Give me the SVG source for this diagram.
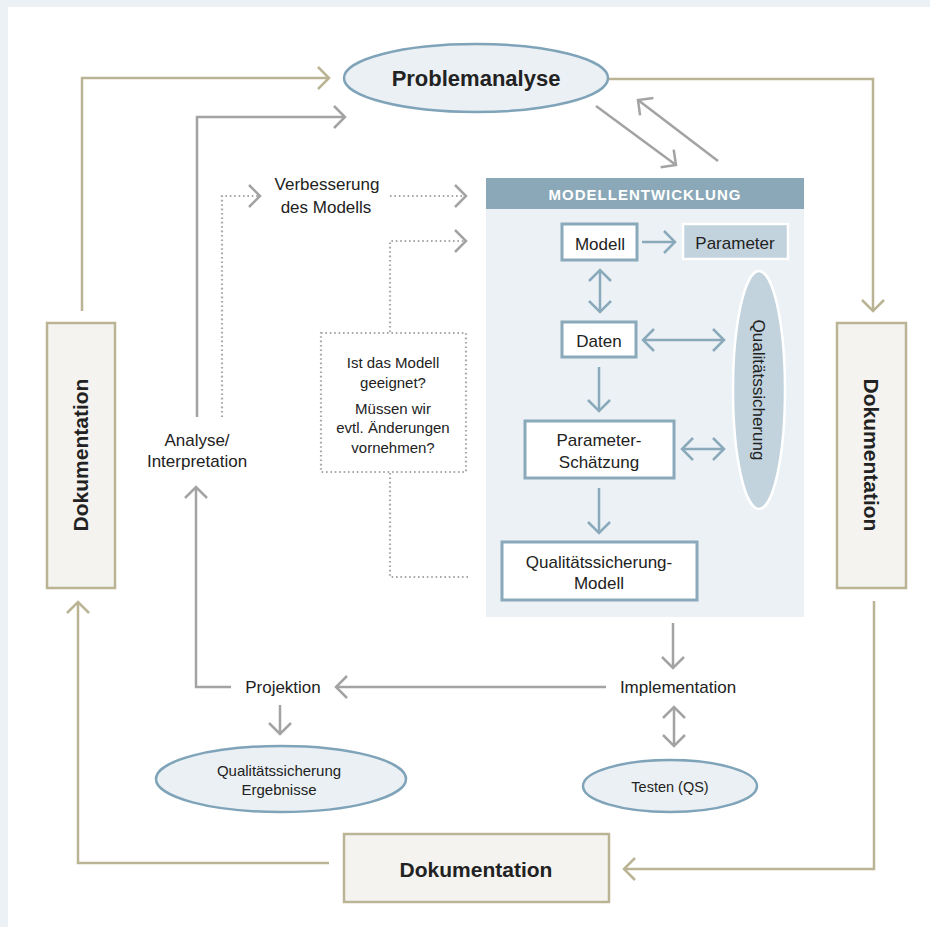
<svg xmlns="http://www.w3.org/2000/svg" width="930" height="927" viewBox="0 0 930 927">
<defs>
<style>
text{font-family:"Liberation Sans",Arial,sans-serif;fill:#222;text-anchor:middle}
.b{font-weight:bold}
.tan{fill:none;stroke:#bab494;stroke-width:2.5}
.gray{fill:none;stroke:#a3a3a3;stroke-width:2.5}
.dot{fill:none;stroke:#a8a8a8;stroke-width:2.2;stroke-dasharray:1.6 2.8}
.blue{fill:none;stroke:#8aa9ba;stroke-width:2.5}
.doc{fill:#f4f3ef;stroke:#bab494;stroke-width:2.5}
.ell{fill:#eaf0f4;stroke:#7fa3b8;stroke-width:2.5}
.box{fill:#fff;stroke:#8aa9ba;stroke-width:3}
</style>
<marker id="aT" markerUnits="userSpaceOnUse" markerWidth="30" markerHeight="30" viewBox="-15 -15 30 30" refX="0" refY="0" orient="auto-start-reverse"><path d="M-11,-11 L0,0 L-11,11" fill="none" stroke="#bab494" stroke-width="2.5"/></marker>
<marker id="aG" markerUnits="userSpaceOnUse" markerWidth="30" markerHeight="30" viewBox="-15 -15 30 30" refX="0" refY="0" orient="auto-start-reverse"><path d="M-11,-11 L0,0 L-11,11" fill="none" stroke="#a3a3a3" stroke-width="2.5"/></marker>
<marker id="aB" markerUnits="userSpaceOnUse" markerWidth="30" markerHeight="30" viewBox="-15 -15 30 30" refX="0" refY="0" orient="auto-start-reverse"><path d="M-11,-11 L0,0 L-11,11" fill="none" stroke="#8aa9ba" stroke-width="2.5"/></marker>
</defs>
<rect x="0" y="0" width="930" height="927" fill="#ebf1f5"/>
<rect x="8" y="7" width="922" height="920" fill="#fff"/>

<g id="modellentwicklung-panel">
<rect x="486" y="178" width="318" height="439" fill="#ebf1f5"/>
<rect x="486" y="178" width="318" height="31" fill="#8ba8b8"/>
<text x="645" y="200" class="b" font-size="15" letter-spacing="1" style="fill:#fff">MODELLENTWICKLUNG</text>
</g>

<g id="connectors">
<!-- tan loop -->
<polyline class="tan" points="82,311 82,78 329,78" marker-end="url(#aT)"/>
<polyline class="tan" points="608,79 873,79 873,311" marker-end="url(#aT)"/>
<polyline class="tan" points="874,601 874,869 624,869" marker-end="url(#aT)"/>
<polyline class="tan" points="329,863 78,863 78,602" marker-end="url(#aT)"/>
<!-- gray -->
<polyline class="gray" points="197,417 197,117 345,117" marker-end="url(#aG)"/>
<line class="gray" x1="596" y1="106" x2="676" y2="165" marker-end="url(#aG)"/>
<line class="gray" x1="718" y1="161" x2="638" y2="100" marker-end="url(#aG)"/>
<line class="gray" x1="673" y1="623" x2="673" y2="668" marker-end="url(#aG)"/>
<line class="gray" x1="606" y1="687" x2="336" y2="687" marker-end="url(#aG)"/>
<polyline class="gray" points="231,687 196,687 196,487" marker-end="url(#aG)"/>
<line class="gray" x1="280" y1="705" x2="280" y2="734" marker-end="url(#aG)"/>
<line class="gray" x1="674" y1="707" x2="674" y2="746" marker-start="url(#aG)" marker-end="url(#aG)"/>
<!-- dotted -->
<polyline class="dot" points="222,417 222,196 260,196"/>
<path d="M249,185 L260,196 L249,207" fill="none" stroke="#a3a3a3" stroke-width="2.5"/>
<line class="dot" x1="390" y1="196" x2="466" y2="196"/>
<path d="M455,185 L466,196 L455,207" fill="none" stroke="#a3a3a3" stroke-width="2.5"/>
<polyline class="dot" points="390,332 390,241 466,241"/>
<path d="M455,230 L466,241 L455,252" fill="none" stroke="#a3a3a3" stroke-width="2.5"/>
<polyline class="dot" points="390,473 390,577 469,577"/>
<!-- blue -->
<line class="blue" x1="642" y1="242" x2="675" y2="242" marker-end="url(#aB)"/>
<line class="blue" x1="600" y1="270" x2="600" y2="312" marker-start="url(#aB)" marker-end="url(#aB)"/>
<line class="blue" x1="643" y1="340" x2="724" y2="340" marker-start="url(#aB)" marker-end="url(#aB)"/>
<line class="blue" x1="599" y1="367" x2="599" y2="411" marker-end="url(#aB)"/>
<line class="blue" x1="682" y1="449" x2="724" y2="449" marker-start="url(#aB)" marker-end="url(#aB)"/>
<line class="blue" x1="599" y1="488" x2="599" y2="533" marker-end="url(#aB)"/>
</g>

<g id="problemanalyse">
<ellipse class="ell" cx="476" cy="78" rx="132" ry="34"/>
<text x="476" y="86" class="b" font-size="22">Problemanalyse</text>
</g>

<g id="dokumentation-links">
<rect class="doc" x="47" y="323" width="68" height="265"/>
<text transform="translate(81,455) rotate(-90)" y="7" class="b" font-size="21">Dokumentation</text>
</g>

<g id="dokumentation-rechts">
<rect class="doc" x="837" y="323" width="69" height="265"/>
<text transform="translate(871,455) rotate(90)" y="7" class="b" font-size="21">Dokumentation</text>
</g>

<g id="dokumentation-unten">
<rect class="doc" x="344" y="834" width="265" height="68"/>
<text x="476" y="877" class="b" font-size="21">Dokumentation</text>
</g>

<g id="verbesserung">
<text x="327" y="190" font-size="17">Verbesserung</text>
<text x="326" y="213" font-size="17">des Modells</text>
</g>

<g id="frage">
<rect x="321" y="333" width="145" height="139" fill="none" class="dot"/>
<text x="393" y="368" font-size="15">Ist das Modell</text>
<text x="393" y="388" font-size="15">geeignet?</text>
<text x="393" y="414" font-size="15">Müssen wir</text>
<text x="393" y="433" font-size="15">evtl. Änderungen</text>
<text x="393" y="453" font-size="15">vornehmen?</text>
</g>

<g id="analyse">
<text x="197" y="446" font-size="17">Analyse/</text>
<text x="197" y="467" font-size="17">Interpretation</text>
</g>

<g id="modell">
<rect class="box" x="562" y="224" width="75" height="36"/>
<text x="600" y="250" font-size="17">Modell</text>
</g>

<g id="parameter">
<rect x="683" y="224" width="105" height="35" fill="#c3d3dd" stroke="#fff" stroke-width="2.5"/>
<text x="735" y="249" font-size="17">Parameter</text>
</g>

<g id="daten">
<rect class="box" x="562" y="322" width="74" height="35"/>
<text x="599" y="347" font-size="17">Daten</text>
</g>

<g id="qualitaetssicherung">
<ellipse cx="759" cy="390" rx="26" ry="119" fill="#c3d3dd" stroke="#fff" stroke-width="2.5"/>
<text transform="translate(759,390) rotate(90)" y="6" font-size="17">Qualitätssicherung</text>
</g>

<g id="parameter-schaetzung">
<rect class="box" x="525" y="421" width="149" height="57"/>
<text x="599" y="446" font-size="17">Parameter-</text>
<text x="599" y="468" font-size="17">Schätzung</text>
</g>

<g id="qs-modell">
<rect class="box" x="502" y="542" width="195" height="58"/>
<text x="599" y="568" font-size="17">Qualitätssicherung-</text>
<text x="599" y="589" font-size="17">Modell</text>
</g>

<g id="implementation">
<text x="678" y="693" font-size="17">Implementation</text>
</g>

<g id="projektion">
<text x="283" y="693" font-size="17">Projektion</text>
</g>

<g id="qs-ergebnisse">
<ellipse class="ell" cx="281" cy="779" rx="125" ry="33"/>
<text x="279" y="776" font-size="15">Qualitätssicherung</text>
<text x="279" y="795" font-size="15">Ergebnisse</text>
</g>

<g id="testen">
<ellipse class="ell" cx="670" cy="786" rx="87" ry="26"/>
<text x="670" y="792" font-size="14.5">Testen (QS)</text>
</g>
</svg>
